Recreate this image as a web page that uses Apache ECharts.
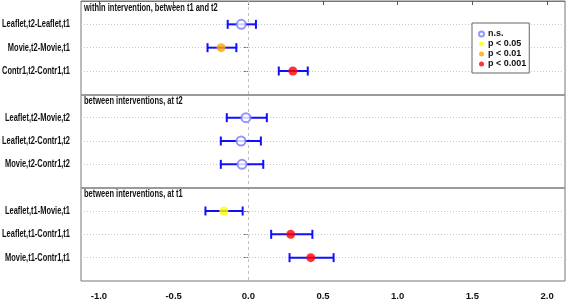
<!DOCTYPE html>
<html>
<head>
<meta charset="utf-8">
<script src="https://cdn.jsdelivr.net/npm/echarts@6/dist/echarts.min.js"></script>
<style>
  html, body { margin: 0; padding: 0; background: #fff; }
  #chart { width: 567px; height: 301px; }
</style>
</head>
<body>
<div id="chart"></div>
<script>
  // panel headings
  const panels = [
    'within intervention, between t1 and t2',
    'between interventions, at t2',
    'between interventions, at t1'
  ];
  // contrasts, three per panel
  const labels = [
    'Leaflet,t2-Leaflet,t1', 'Movie,t2-Movie,t1', 'Contr1,t2-Contr1,t1',
    'Leaflet,t2-Movie,t2', 'Leaflet,t2-Contr1,t2', 'Movie,t2-Contr1,t2',
    'Leaflet,t1-Movie,t1', 'Leaflet,t1-Contr1,t1', 'Movie,t1-Contr1,t1'
  ];
  const estimate = [-0.047, -0.182, 0.298, -0.016, -0.049, -0.042, -0.164, 0.284, 0.418];
  const lower = [-0.138, -0.273, 0.204, -0.144, -0.184, -0.184, -0.287, 0.153, 0.276];
  const upper = [0.051, -0.080, 0.398, 0.124, 0.084, 0.100, -0.038, 0.429, 0.571];
  const signif = ['n.s.', 'p < 0.01', 'p < 0.001', 'n.s.', 'n.s.', 'n.s.', 'p < 0.05', 'p < 0.001', 'p < 0.001'];
  const xTicks = [-1.0, -0.5, 0.0, 0.5, 1.0, 1.5, 2.0];

  const sigLevels = ['n.s.', 'p < 0.05', 'p < 0.01', 'p < 0.001'];
  const sigColors = { 'n.s.': '#7b7bff', 'p < 0.05': '#ffff00', 'p < 0.01': '#ffa500', 'p < 0.001': '#ff0000' };

  const XMIN = -1.12, XMAX = 2.12;
  // row position on the y scale: 3 rows per panel, 1 empty unit between panels
  const rowOf = (i) => Math.floor(i / 3) * 4 + (i % 3) + 1;
  const rows = labels.map((_, i) => rowOf(i));

  const font = 'Arial, "Liberation Sans", sans-serif';

  const chart = echarts.init(document.getElementById('chart'));

  const markLines = [];
  rows.forEach(r => markLines.push({ yAxis: r, lineStyle: { type: [1, 2], color: '#c8c8c8', width: 1 } }));
  markLines.push({ xAxis: 0, lineStyle: { type: [3, 3], color: '#c0c0c0', width: 1 } });
  [4, 8].forEach(r => markLines.push({ yAxis: r, lineStyle: { type: 'solid', color: '#9a9a9a', width: 2 } }));

  const option = {
    animation: false,
    grid: { left: 81, right: 2, top: 1, bottom: 20, show: true, borderColor: '#777', borderWidth: 1, outerBoundsMode: 'none' },
    xAxis: {
      type: 'value', min: XMIN, max: XMAX,
      axisLine: { show: true, lineStyle: { color: '#777' } },
      axisTick: { show: true, customValues: xTicks, length: 4, lineStyle: { color: '#555' } },
      axisLabel: {
        customValues: xTicks, margin: 10,
        formatter: v => v.toFixed(1),
        fontFamily: font, fontWeight: 'bold', fontSize: 9.5, color: '#111'
      },
      splitLine: { show: false }
    },
    yAxis: {
      type: 'value', inverse: true, min: 0, max: 12,
      axisLine: { show: false },
      axisTick: { show: true, customValues: rows.concat([4, 8]), length: 5, lineStyle: { color: '#777' } },
      axisLabel: { show: false },
      splitLine: { show: false }
    },
    legend: {
      data: sigLevels,
      orient: 'vertical',
      left: 472, top: 23,
      padding: [6, 3, 4, 6],
      itemGap: 0,
      itemWidth: 5, itemHeight: 5,
      borderColor: '#666', borderWidth: 1,
      backgroundColor: '#fff',
      textStyle: { fontFamily: font, fontWeight: 'bold', fontSize: 9, color: '#111', lineHeight: 10, padding: [0, 0, 0, -1] }
    },
    series: [
      {
        type: 'custom',
        name: 'ci',
        z: 2,
        data: labels.map((_, i) => [lower[i], upper[i], rowOf(i)]),
        renderItem: function (params, api) {
          const a = api.coord([api.value(0), api.value(2)]);
          const b = api.coord([api.value(1), api.value(2)]);
          const h = 4.5;
          const style = { stroke: '#1010ff', lineWidth: 2 };
          return {
            type: 'group',
            children: [
              { type: 'line', shape: { x1: a[0], y1: a[1], x2: b[0], y2: b[1] }, style: style },
              { type: 'line', shape: { x1: a[0], y1: a[1] - h, x2: a[0], y2: a[1] + h }, style: style },
              { type: 'line', shape: { x1: b[0], y1: b[1] - h, x2: b[0], y2: b[1] + h }, style: style }
            ]
          };
        },
        markLine: {
          silent: true, symbol: ['none', 'none'], label: { show: false },
          z: 1,
          data: markLines
        }
      }
    ].concat(sigLevels.map(s => ({
      type: 'scatter',
      name: s,
      z: 3,
      symbol: s === 'n.s.' ? 'emptyCircle' : 'circle',
      symbolSize: 9,
      itemStyle: s === 'n.s.'
        ? { color: sigColors[s], borderColor: sigColors[s], borderWidth: 1 }
        : { color: sigColors[s] },
      data: estimate.map((e, i) => signif[i] === s ? [e, rowOf(i)] : null).filter(d => d)
    })))
  };

  chart.setOption(option);

  // row labels and panel headings, placed from the axis scale (narrow text like the R png)
  const texts = [];
  labels.forEach((l, i) => {
    const pt = chart.convertToPixel({ gridIndex: 0 }, [XMIN, rowOf(i)]);
    texts.push({
      type: 'text',
      x: pt[0] - 11, y: pt[1],
      scaleX: 0.71,
      style: {
        text: l, fontFamily: font, fontWeight: 'bold', fontSize: 10.5,
        fill: '#111', textAlign: 'right', textVerticalAlign: 'middle'
      }
    });
  });
  panels.forEach((t, p) => {
    const pt = chart.convertToPixel({ gridIndex: 0 }, [XMIN, p * 4]);
    texts.push({
      type: 'text',
      x: pt[0] + 3, y: pt[1] + 7,
      scaleX: 0.75,
      style: {
        text: t, fontFamily: font, fontWeight: 'bold', fontSize: 10,
        fill: '#111', textVerticalAlign: 'middle'
      }
    });
  });
  chart.setOption({ graphic: texts });
</script>
</body>
</html>
